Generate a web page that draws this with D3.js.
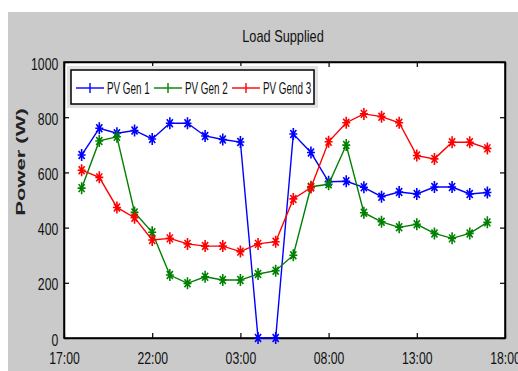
<!DOCTYPE html>
<html>
<head>
<meta charset="utf-8">
<script src="https://cdn.jsdelivr.net/npm/d3@7"></script>
<style>
  body { margin: 0; background: #fff; }
  text { font-family: "Liberation Sans", Arial, sans-serif; fill: #111; }
</style>
</head>
<body>
<svg class="chart" width="518" height="371"></svg>
<script>
// hourly samples, 18:00 on day one to 17:00 next day
let times = ["18:00","19:00","20:00","21:00","22:00","23:00","00:00","01:00","02:00","03:00","04:00","05:00",
             "06:00","07:00","08:00","09:00","10:00","11:00","12:00","13:00","14:00","15:00","16:00","17:00"];
let gen1 = [663, 760, 742, 752, 721, 778, 778, 732, 719, 710, 0, 0, 739, 672, 566, 568, 546, 512, 529, 522, 547, 547, 522, 527];
let gen2 = [543, 714, 729, 455, 383, 228, 198, 222, 210, 210, 232, 244, 300, 548, 557, 699, 454, 421, 401, 412, 379, 361, 379, 419];
let gen3 = [608, 582, 473, 436, 355, 361, 341, 333, 333, 313, 341, 349, 504, 545, 711, 780, 812, 802, 780, 661, 649, 709, 709, 687];
let xTickLabels = ["17:00","22:00","03:00","08:00","13:00","18:00"];
let yTicks = [0, 200, 400, 600, 800, 1000];
let seriesNames = ["PV Gen 1", "PV Gen 2", "PV Gend 3"];
let seriesColors = ["#0000ff", "#008000", "#ff0000"];

// hours counted from 17:00
function hoursFrom17(t){
    let h = +t.split(":")[0];
    return (h - 17 + 24) % 24;
}
let tickHours = xTickLabels.map((t, i) => i == xTickLabels.length - 1 ? 25 : hoursFrom17(t));
let hours = times.map(t => hoursFrom17(t) == 0 ? 24 : hoursFrom17(t));

let margin = {top: 62, left: 64},
    width = 441,
    height = 276;
let sx = 0.72; // the original picture is squeezed sideways

let svg = d3.select(".chart");
svg.append("rect")
    .attr("x", 8).attr("y", 12)
    .attr("width", 510).attr("height", 359)
    .style("fill", "#cacaca");

let g = svg.append("g")
    .attr("transform", "translate(" + margin.left + "," + margin.top + ")");

g.append("rect")
    .attr("width", width)
    .attr("height", height)
    .style("fill", "#fff");

let x = d3.scaleLinear().domain([0, 25]).range([0, width]),
    y = d3.scaleLinear().domain([0, 1000]).range([height, 0]);

// axes, ticks pointing inward like MATLAB
let yAxis = g.append("g")
    .call(d3.axisLeft(y).tickValues(yTicks).tickSize(-5).tickSizeOuter(0).tickPadding(8)
        .tickFormat(d3.format("d")));
let xAxis = g.append("g")
    .attr("transform", "translate(0," + height + ")")
    .call(d3.axisBottom(x).tickValues(tickHours).tickSize(-5).tickSizeOuter(0).tickPadding(14)
        .tickFormat((d, i) => xTickLabels[i]));
g.append("g")
    .attr("transform", "translate(" + width + ",0)")
    .call(d3.axisRight(y).tickValues(yTicks).tickSize(-5).tickSizeOuter(0).tickFormat(""));
g.append("g")
    .call(d3.axisTop(x).tickValues(tickHours).tickSize(-5).tickSizeOuter(0).tickFormat(""));

g.selectAll(".tick text")
    .attr("font-size", 17)
    .attr("font-family", "Liberation Sans, Arial, sans-serif")
    .style("fill", "#111")
    .attr("transform", "scale(" + sx + ",1)");
yAxis.selectAll(".tick text").attr("dy", "0.42em");
g.selectAll(".domain").style("stroke", "#000").style("stroke-width", 1.5);
g.selectAll(".tick line").style("stroke", "#000").style("stroke-width", 1.2);

g.append("rect")
    .attr("width", width)
    .attr("height", height)
    .style("fill", "none")
    .style("stroke", "#000")
    .style("stroke-width", 1.5);

// MATLAB '*' marker
function star(px, py){
    return "M" + px + "," + (py - 6) + "V" + (py + 6) +
           "M" + (px - 4) + "," + py + "H" + (px + 4) +
           "M" + (px - 3) + "," + (py - 4) + "L" + (px + 3) + "," + (py + 4) +
           "M" + (px - 3) + "," + (py + 4) + "L" + (px + 3) + "," + (py - 4);
}

let series = [gen1, gen2, gen3];
let line = d3.line().x((d, i) => x(hours[i])).y(d => y(d));

let plot = g.append("g");
series.forEach(function(s, k){
    plot.append("path")
        .datum(s)
        .attr("d", line)
        .style("fill", "none")
        .style("stroke", seriesColors[k])
        .style("stroke-width", 1.4);
    plot.selectAll(".m" + k)
        .data(s)
        .join("path")
        .attr("class", "m" + k)
        .attr("d", (d, i) => star(x(hours[i]), y(d)))
        .style("fill", "none")
        .style("stroke", seriesColors[k])
        .style("stroke-width", 1.6);
});

// legend
let legend = svg.append("g");
legend.append("rect")
    .attr("x", 67).attr("y", 66).attr("width", 251).attr("height", 42)
    .style("fill", "#e2e2e2");
legend.append("rect")
    .attr("x", 71).attr("y", 70).attr("width", 243).attr("height", 34)
    .style("fill", "#fff")
    .style("stroke", "#000")
    .style("stroke-width", 1.5);
let legX = [76, 154, 232];
seriesNames.forEach(function(name, k){
    let lx = legX[k], ly = 88;
    legend.append("line")
        .attr("x1", lx).attr("x2", lx + 28)
        .attr("y1", ly).attr("y2", ly)
        .style("stroke", seriesColors[k])
        .style("stroke-width", 1.4);
    legend.append("path")
        .attr("d", "M" + (lx + 14) + "," + (ly - 5) + "V" + (ly + 5))
        .style("fill", "none")
        .style("stroke", seriesColors[k])
        .style("stroke-width", 1.4);
    legend.append("text")
        .attr("transform", "translate(" + (lx + 31) + "," + (ly + 6) + ") scale(0.58,1)")
        .attr("font-size", 17)
        .text(name);
});

// title and y label
svg.append("text")
    .attr("transform", "translate(283,42) scale(0.75,1)")
    .attr("text-anchor", "middle")
    .attr("font-size", 17)
    .text("Load Supplied");

svg.append("text")
    .attr("transform", "translate(25,162) scale(0.62,1) rotate(-90)")
    .attr("text-anchor", "middle")
    .attr("font-size", 22)
    .attr("font-weight", "bold")
    .style("fill", "#222")
    .text("Power (W)");
</script>
</body>
</html>
